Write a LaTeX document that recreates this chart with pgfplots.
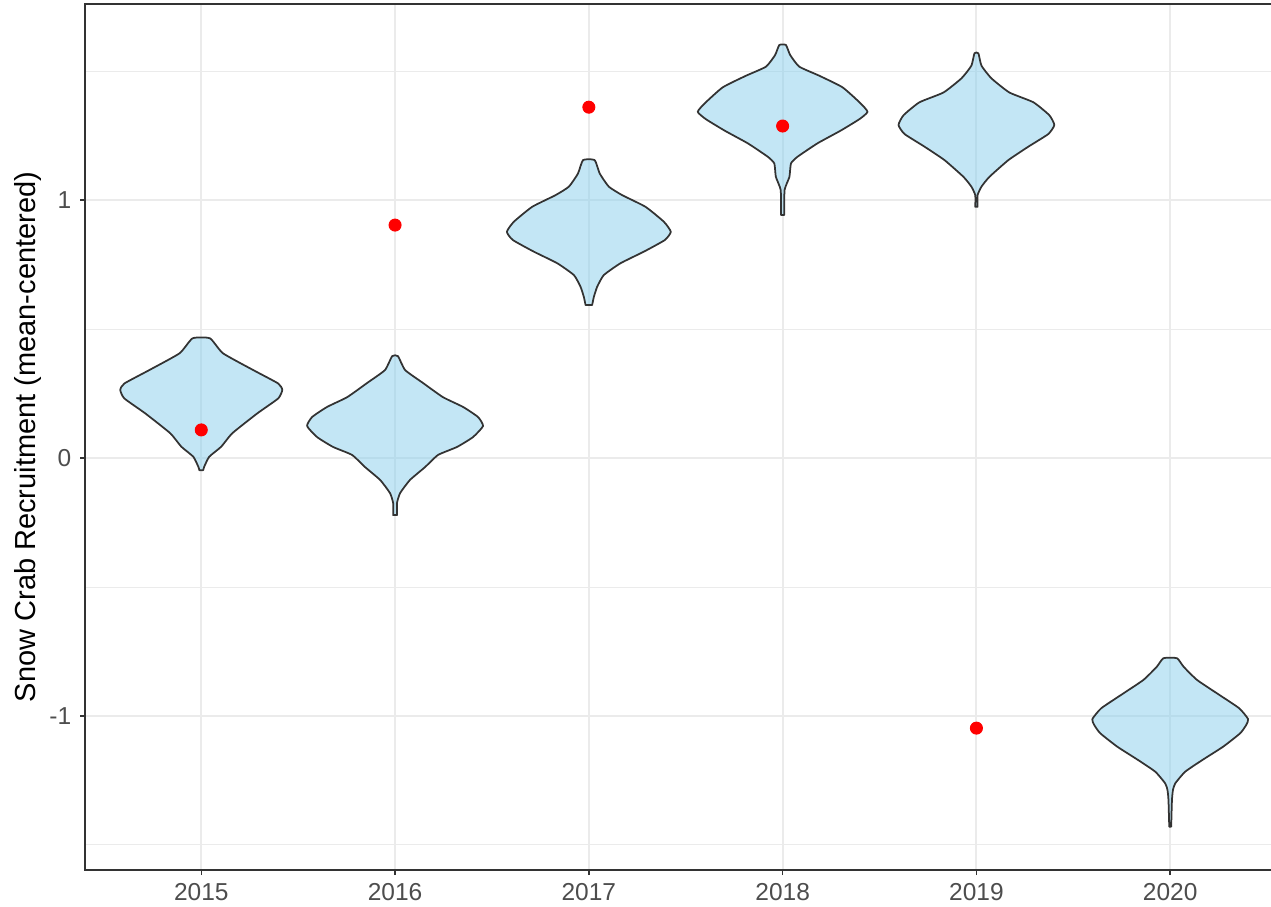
\documentclass[border=0pt]{standalone}
\usepackage{fontspec}
\setmainfont{Liberation Sans}
\usepackage{pgfplots}
\pgfplotsset{compat=1.18}
\usepackage{pgfplotstable}
\usetikzlibrary{calc}

\definecolor{grey20}{HTML}{333333}
\definecolor{grey30}{HTML}{4D4D4D}
\definecolor{grey92}{HTML}{EBEBEB}
\definecolor{skyblue}{HTML}{87CEEB}

% violin outlines: y, signed half-width (right side up, left side down)
\pgfplotstableread{
y w
-0.047 0.010
-0.034 0.015
0.005 0.041
0.044 0.103
0.096 0.160
0.173 0.289
0.231 0.397
0.264 0.418
0.289 0.397
0.341 0.268
0.406 0.112
0.464 0.045
0.464 -0.045
0.406 -0.112
0.341 -0.268
0.289 -0.397
0.264 -0.418
0.231 -0.397
0.173 -0.289
0.096 -0.160
0.044 -0.103
0.005 -0.041
-0.034 -0.015
-0.047 -0.010
}\vA

\pgfplotstableread{
y w
-0.221 0.010
-0.174 0.010
-0.136 0.026
-0.085 0.077
-0.035 0.155
0.012 0.222
0.043 0.320
0.081 0.402
0.124 0.454
0.159 0.428
0.198 0.351
0.236 0.247
0.291 0.144
0.341 0.052
0.395 0.015
0.395 -0.015
0.341 -0.052
0.291 -0.144
0.236 -0.247
0.198 -0.351
0.159 -0.428
0.124 -0.454
0.081 -0.402
0.043 -0.320
0.012 -0.222
-0.035 -0.155
-0.085 -0.077
-0.136 -0.026
-0.174 -0.010
-0.221 -0.010
}\vB

\pgfplotstableread{
y w
0.593 0.017
0.625 0.026
0.664 0.043
0.709 0.077
0.755 0.163
0.800 0.284
0.845 0.392
0.877 0.423
0.916 0.387
0.974 0.292
1.019 0.172
1.052 0.103
1.103 0.056
1.155 0.030
1.155 -0.030
1.103 -0.056
1.052 -0.103
1.019 -0.172
0.974 -0.292
0.916 -0.387
0.877 -0.423
0.845 -0.392
0.800 -0.284
0.755 -0.163
0.709 -0.077
0.664 -0.043
0.625 -0.026
0.593 -0.017
}\vC

\pgfplotstableread{
y w
0.942 0.008
1.039 0.010
1.090 0.035
1.142 0.043
1.168 0.077
1.220 0.180
1.269 0.299
1.314 0.397
1.342 0.438
1.375 0.402
1.437 0.309
1.482 0.189
1.517 0.086
1.562 0.039
1.601 0.017
1.601 -0.017
1.562 -0.039
1.517 -0.086
1.482 -0.189
1.437 -0.309
1.375 -0.402
1.342 -0.438
1.314 -0.397
1.269 -0.299
1.220 -0.180
1.168 -0.077
1.142 -0.043
1.090 -0.035
1.039 -0.010
0.942 -0.008
}\vD

\pgfplotstableread{
y w
0.974 0.006
1.019 0.006
1.052 0.026
1.090 0.067
1.155 0.165
1.207 0.268
1.256 0.371
1.291 0.402
1.329 0.376
1.379 0.294
1.417 0.170
1.472 0.077
1.521 0.026
1.569 0.010
1.569 -0.010
1.521 -0.026
1.472 -0.077
1.417 -0.170
1.379 -0.294
1.329 -0.376
1.291 -0.402
1.256 -0.371
1.207 -0.268
1.155 -0.165
1.090 -0.067
1.052 -0.026
1.019 -0.006
0.974 -0.006
}\vE

\pgfplotstableread{
y w
-1.429 0.005
-1.326 0.009
-1.287 0.014
-1.261 0.026
-1.216 0.077
-1.171 0.165
-1.119 0.273
-1.067 0.361
-1.035 0.392
-1.012 0.402
-0.970 0.356
-0.915 0.247
-0.860 0.138
-0.809 0.069
-0.776 0.035
-0.776 -0.035
-0.809 -0.069
-0.860 -0.138
-0.915 -0.247
-0.970 -0.356
-1.012 -0.402
-1.035 -0.392
-1.067 -0.361
-1.119 -0.273
-1.171 -0.165
-1.216 -0.077
-1.261 -0.026
-1.287 -0.014
-1.326 -0.009
-1.429 -0.005
}\vF

\pgfplotsset{violin/.style={draw=grey20, line width=0.7pt, line join=round,
    fill=skyblue, fill opacity=0.5, mark=none, smooth, tension=0.3}}

\begin{document}
\begin{tikzpicture}
\begin{axis}[
    name=ax,
    scale only axis,
    width=480.6pt, height=346.4pt,
    xmin=0.4, xmax=6.6,
    ymin=-1.597, ymax=1.760,
    xtick={1,2,3,4,5,6},
    xticklabels={2015,2016,2017,2018,2019,2020},
    ytick={-1,0,1},
    yticklabels={-1,0,1},
    minor ytick={-1.5,-0.5,0.5,1.5},
    grid=both,
    major grid style={grey92, line width=0.75pt},
    minor grid style={grey92, line width=0.4pt},
    axis line style={grey20, line width=0.8pt},
    tick pos=left,
    tick align=outside,
    major tick length=2pt,
    minor tick length=0pt,
    tick style={grey20, line width=0.6pt},
    tick label style={font=\fontsize{9.8}{11}\selectfont, text=grey30},
    ylabel={Snow Crab Recruitment (mean-centered)},
    ylabel style={font=\fontsize{11.6}{13}\selectfont, at={(axis description cs:-0.0474,0.5)}, anchor=center},
]
\addplot[violin] table[x expr=1+\thisrow{w}, y=y] {\vA} -- cycle;
\addplot[violin] table[x expr=2+\thisrow{w}, y=y] {\vB} -- cycle;
\addplot[violin] table[x expr=3+\thisrow{w}, y=y] {\vC} -- cycle;
\addplot[violin] table[x expr=4+\thisrow{w}, y=y] {\vD} -- cycle;
\addplot[violin] table[x expr=5+\thisrow{w}, y=y] {\vE} -- cycle;
\addplot[violin] table[x expr=6+\thisrow{w}, y=y] {\vF} -- cycle;

% observed values
\addplot[only marks, mark=*, mark size=2.4pt, draw=red, fill=red]
    coordinates {(1,0.109) (2,0.903) (3,1.360) (4,1.287) (5,-1.047)};
\end{axis}
\pgfresetboundingbox
\path[use as bounding box] ($(ax.south west)+(-34pt,-14.4pt)$) rectangle ($(ax.south west)+(474.4pt,348.0pt)$);
\end{tikzpicture}
\end{document}
